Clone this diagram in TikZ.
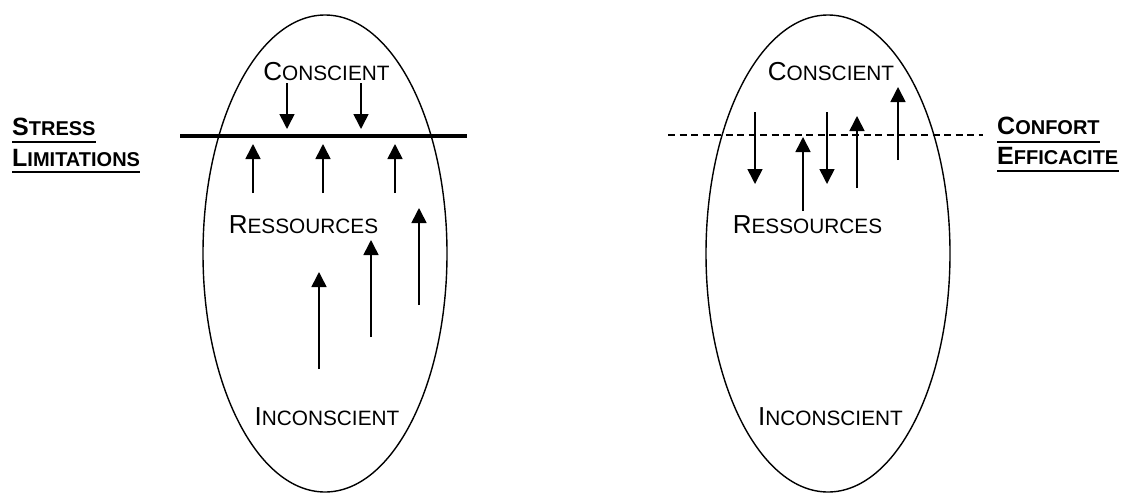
\documentclass[tikz,border=0pt]{standalone}
\usepackage{fontspec}
\setmainfont{Liberation Sans}
\usetikzlibrary{arrows.meta}

\newcommand{\petitcap}[2]{{\fontsize{26}{30}\selectfont #1}{\fontsize{20.8}{24}\selectfont #2}}
\newcommand{\petitgras}[2]{{\fontsize{25}{30}\selectfont #1}{\fontsize{20}{24}\selectfont #2}}

\tikzset{
  fleche/.style={line width=1.6pt, -{Triangle[length=15pt,width=15pt]}},
  mot/.style={inner sep=0pt, anchor=base},
  titre/.style={inner sep=0pt, anchor=base west, font=\bfseries},
  souligne/.style={line width=2.4pt},
}

\begin{document}
\begin{tikzpicture}[x=1pt, y=-1pt]
  \useasboundingbox (0,0) rectangle (1123,493);

  % gauche
  \draw[line width=1.4pt] (325,253.5) ellipse [x radius=122, y radius=238.5];
  \draw[line width=3.5pt] (180,136) -- (467,136);
  \node[mot] (consG) at (326.5,80) {\petitcap{C}{ONSCIENT}};
  \node[mot] (ressG) at (303.5,233) {\petitcap{R}{ESSOURCES}};
  \node[mot] (inconsG) at (327,425) {\petitcap{I}{NCONSCIENT}};
  \foreach \x in {287,361}
    \draw[fleche] (\x,83) -- (\x,129);
  \foreach \x in {253,323,395}
    \draw[fleche] (\x,193) -- (\x,144);
  \foreach \x/\a/\b in {419/305/208, 371/337/240, 319/369/272}
    \draw[fleche] (\x,\a) -- (\x,\b);

  \node[titre] (stress) at (12,135) {\petitgras{S}{TRESS}};
  \node[titre] (limit) at (12,166) {\petitgras{L}{IMITATIONS}};
  \draw[souligne] ([yshift=-7pt]stress.base west) -- ([yshift=-7pt]stress.base east);
  \draw[souligne] ([yshift=-6pt]limit.base west) -- ([yshift=-6pt]limit.base east);

  % droite
  \draw[line width=1.4pt] (828,253.5) ellipse [x radius=122, y radius=238.5];
  \draw[line width=1.4pt, dash pattern=on 7pt off 4.5pt] (668,135) -- (983,135);
  \node[mot] (consD) at (831,80) {\petitcap{C}{ONSCIENT}};
  \node[mot] (ressD) at (807.5,233) {\petitcap{R}{ESSOURCES}};
  \node[mot] (inconsD) at (830.5,425) {\petitcap{I}{NCONSCIENT}};
  \foreach \x in {755,827}
    \draw[fleche] (\x,112) -- (\x,184);
  \foreach \x/\a/\b in {803/211/137, 857/188/116, 898/160/87}
    \draw[fleche] (\x,\a) -- (\x,\b);

  \node[titre] (confort) at (997,134) {\petitgras{C}{ONFORT}};
  \node[titre] (effic) at (997,164) {\petitgras{E}{FFICACITE}};
  \draw[souligne] ([yshift=-8pt]confort.base west) -- ([yshift=-8pt]confort.base east);
  \draw[souligne] ([yshift=-7pt]effic.base west) -- ([yshift=-7pt]effic.base east);
\end{tikzpicture}
\end{document}
